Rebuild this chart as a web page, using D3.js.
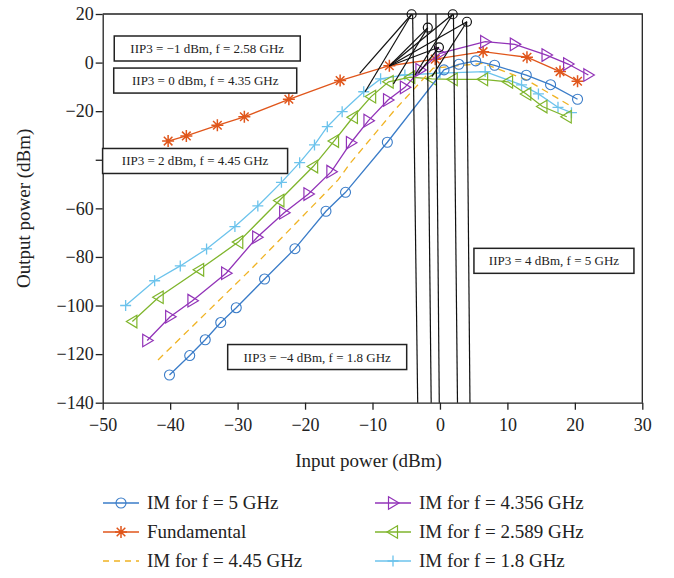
<!DOCTYPE html>
<html>
<head>
<meta charset="utf-8">
<script src="https://d3js.org/d3.v7.min.js"></script>
<style>
  body { margin: 0; background: #fff; }
  text { font-family: "Liberation Serif", "DejaVu Serif", serif; fill: #222; }
  .axis path, .axis line { stroke: #222; stroke-width: 1.3; }
</style>
</head>
<body>
<svg id="canvas" width="674" height="578"></svg>
<script>
// ---------------------------------------------------------------- //
// Data

var xTicks = [-50, -40, -30, -20, -10, 0, 10, 20, 30];
var yTicks = [20, 0, -20, -40, -60, -80, -100, -120, -140];

var im5_x   = [-40.1, -37.1, -34.8, -32.5, -30.2, -26.0, -21.5, -16.9, -14.0, -7.8, 0.6, 2.8, 5.3, 8.1, 12.8, 16.4, 20.4];
var im5_y   = [-128.6, -120.6, -114.1, -107.0, -100.9, -89.1, -76.6, -61.2, -53.4, -32.8, -3.0, -0.7, 0.7, -1.1, -5.2, -9.1, -15.1];

var fund_x  = [-40.3, -37.6, -33.0, -29.0, -22.4, -14.8, -7.5, -0.7, 6.4, 12.9, 17.8, 20.4];
var fund_y  = [-32.3, -30.2, -25.8, -22.3, -15.1, -7.4, -1.3, 1.4, 4.5, 2.2, -3.7, -7.7];

var im445_x = [-41.8, -28.0, -15.1, -13.3, -6.7, -1.0, 6.4, 12.9, 19.7];
var im445_y = [-122.4, -85.0, -48.3, -41.4, -19.5, -2.3, -0.3, -7.2, -18.4];

var im4356_x = [-43.4, -40.0, -36.7, -31.7, -27.1, -23.1, -19.5, -16.1, -13.2, -10.6, -7.7, -5.2, -2.9, 0.0, 6.7, 11.1, 15.8, 19.0, 22.0];
var im4356_y = [-114.4, -104.6, -98.0, -86.7, -71.9, -61.8, -54.1, -44.9, -33.0, -23.9, -15.4, -10.2, -3.0, 3.8, 8.6, 7.5, 3.1, -0.6, -5.1];

var im2589_x = [-45.6, -41.7, -35.7, -29.9, -23.8, -18.8, -15.7, -12.9, -10.2, -7.6, -4.4, -1.2, 1.9, 6.4, 10.1, 12.8, 15.2, 18.8];
var im2589_y = [-106.6, -96.6, -85.3, -73.9, -56.8, -42.8, -32.3, -22.5, -14.0, -7.9, -6.0, -6.7, -6.9, -6.9, -7.9, -12.9, -18.1, -22.3];

var im18_x  = [-46.6, -42.3, -38.5, -34.6, -30.4, -27.0, -23.5, -20.8, -18.6, -16.7, -14.5, -11.3, -8.8, -5.2, 0.0, 6.7, 12.1, 14.6, 17.5, 19.5];
var im18_y  = [-100.0, -89.8, -83.7, -76.7, -67.5, -59.0, -49.3, -41.2, -33.9, -26.4, -20.2, -12.0, -6.7, -5.1, -4.3, -3.7, -9.2, -12.9, -18.4, -20.6];

var seriesNames  = ['IM for f = 5 GHz', 'Fundamental', 'IM for f = 4.45 GHz', 'IM for f = 4.356 GHz', 'IM for f = 2.589 GHz', 'IM for f = 1.8 GHz'];
var seriesColors = ['#3a7cc8', '#e0561b', '#f0b323', '#9233b8', '#7fb52c', '#6cc3ec'];
var seriesMarks  = ['circle', 'asterisk', 'none', 'triRight', 'triLeft', 'plus'];

// intercept points (IIP3 circles) and their guide lines, in data units
var ip_x = [-4.2, -1.8, 1.9, 4.0, -0.15];
var ip_y = [19.9, 14.4, 19.9, 16.8, 6.3];
var vline_x1 = [-4.05, -1.9, -0.6, 2.0, 3.95];
var vline_y1 = [19.9, 20, 20, 19.9, 16.8];
var vline_x2 = [-3.3, -1.3, -0.1, 2.6, 4.45];
var guide_from = [0, 0, 1, 1, 2, 2, 3, 3, 4, 4];
var guide_to_x = [-11.9, -11.1, -7.5, -6.9, -7.5, -3.7, -7.5, -1.2, -7.5, -3.2];
var guide_to_y = [-4.4, -12.0, -1.4, -8.8, -1.4, -5.1, -1.4, -5.8, -1.4, -4.4];

// annotation labels: centre in data units
var noteText = ['IIP3 = \u22121 dBm, f = 2.58 GHz', 'IIP3 = 0 dBm, f = 4.35 GHz', 'IIP3 = 2 dBm, f = 4.45 GHz', 'IIP3 = 4 dBm, f = 5 GHz', 'IIP3 = \u22124 dBm, f = 1.8 GHz'];
var note_x = [-34.5, -34.8, -36.3, 16.9, -18.2];
var note_y = [5.8, -7.4, -40.5, -81.6, -121.2];
var note_w = [186, 183, 185, 160, 179];

// ---------------------------------------------------------------- //
// Setup

var svg = d3.select('#canvas');
var L = 102.7, R = 642.3, T = 14, B = 402.7;
var x = d3.scaleLinear().domain([-50, 30]).range([L, R]);
var y = d3.scaleLinear().domain([-140, 20]).range([B, T]);

var fmt = function(d){ return d < 0 ? '\u2212' + Math.abs(d) : '' + d; };

// frame (top and right)
svg.append('path').attr('d', 'M' + L + ',' + T + 'H' + R + 'V' + B)
  .style('fill', 'none').style('stroke', '#222').style('stroke-width', 1.3);

var xAxis = svg.append('g').attr('class', 'axis').attr('transform', 'translate(0,' + B + ')')
  .call(d3.axisBottom(x).tickValues(xTicks).tickSize(7).tickSizeOuter(0).tickFormat(fmt));
xAxis.selectAll('text').style('font-size', '18px').attr('dy', '1.0em');

var yAxis = svg.append('g').attr('class', 'axis').attr('transform', 'translate(' + L + ',0)')
  .call(d3.axisLeft(y).tickValues(yTicks).tickSize(7).tickSizeOuter(0)
    .tickFormat(function(d){ return d === -40 ? '' : fmt(d); }));
yAxis.selectAll('text').style('font-size', '18px').attr('x', -9);
svg.selectAll('.axis .domain').style('stroke-width', 1.3);

svg.append('text').attr('x', (L + R) / 2 - 4).attr('y', 467).attr('text-anchor', 'middle')
  .style('font-size', '19px').text('Input power (dBm)');
svg.append('text').attr('transform', 'translate(30,' + ((T + B) / 2) + ') rotate(-90)')
  .attr('text-anchor', 'middle').style('font-size', '19px').text('Output power (dBm)');

// ---------------------------------------------------------------- //
// Markers

function drawMarker(g, kind, color){
  if (kind === 'circle') {
    g.append('circle').attr('r', 5).style('fill', 'none').style('stroke', color).style('stroke-width', 1.1);
  } else if (kind === 'asterisk') {
    g.append('path').attr('d', 'M-6,0H6M0,-6V6M-4.3,-4.3L4.3,4.3M-4.3,4.3L4.3,-4.3')
      .style('stroke', color).style('stroke-width', 1.5).style('fill', 'none');
  } else if (kind === 'plus') {
    g.append('path').attr('d', 'M-5.5,0H5.5M0,-5.5V5.5')
      .style('stroke', color).style('stroke-width', 1.3).style('fill', 'none');
  } else if (kind === 'triRight') {
    g.append('path').attr('d', 'M-4.5,-6.3L6,0L-4.5,6.3Z')
      .style('stroke', color).style('stroke-width', 1.2).style('fill', 'none');
  } else if (kind === 'triLeft') {
    g.append('path').attr('d', 'M4.5,-6.3L-6,0L4.5,6.3Z')
      .style('stroke', color).style('stroke-width', 1.2).style('fill', 'none');
  }
}

// ---------------------------------------------------------------- //
// Series

var allX = [im5_x, fund_x, im445_x, im4356_x, im2589_x, im18_x];
var allY = [im5_y, fund_y, im445_y, im4356_y, im2589_y, im18_y];
var lineGen = d3.line().x(function(d){ return x(d[0]); }).y(function(d){ return y(d[1]); });
var plot = svg.append('g');

// draw order: back to front
[1, 5, 4, 3, 2, 0].forEach(function(i){
  var pts = allX[i].map(function(d, j){ return [d, allY[i][j]]; });
  plot.append('path').attr('d', lineGen(pts))
    .style('fill', 'none').style('stroke', seriesColors[i]).style('stroke-width', 1.3)
    .style('stroke-dasharray', seriesMarks[i] === 'none' ? '7,5' : null);
  if (seriesMarks[i] !== 'none') {
    pts.forEach(function(p){
      var g = plot.append('g').attr('transform', 'translate(' + x(p[0]) + ',' + y(p[1]) + ')');
      drawMarker(g, seriesMarks[i], seriesColors[i]);
    });
  }
});

// ---------------------------------------------------------------- //
// Intercept guides

var guides = svg.append('g').style('stroke', '#111').style('stroke-width', 1.2).style('fill', 'none');
vline_x1.forEach(function(d, i){
  guides.append('line').attr('x1', x(d)).attr('y1', y(vline_y1[i]))
    .attr('x2', x(vline_x2[i])).attr('y2', y(-140));
});
guide_from.forEach(function(k, i){
  guides.append('line').attr('x1', x(ip_x[k])).attr('y1', y(ip_y[k]))
    .attr('x2', x(guide_to_x[i])).attr('y2', y(guide_to_y[i]));
});
ip_x.forEach(function(d, i){
  guides.append('circle').attr('cx', x(d)).attr('cy', y(ip_y[i])).attr('r', 4.5);
});

// ---------------------------------------------------------------- //
// Notes

noteText.forEach(function(t, i){
  var cx = x(note_x[i]), cy = y(note_y[i]), w = note_w[i], h = 25;
  svg.append('rect').attr('x', cx - w / 2).attr('y', cy - h / 2).attr('width', w).attr('height', h)
    .style('fill', '#fff').style('stroke', '#222').style('stroke-width', 1.5);
  svg.append('text').attr('x', cx).attr('y', cy + 4.5).attr('text-anchor', 'middle')
    .style('font-size', '13px').text(t);
});

// ---------------------------------------------------------------- //
// Legend

var legX = [103, 375], legY = [503, 532, 561];
seriesNames.forEach(function(name, i){
  var col = Math.floor(i / 3), row = i % 3;
  var lx = legX[col], ly = legY[row];
  svg.append('line').attr('x1', lx).attr('x2', lx + 36).attr('y1', ly).attr('y2', ly)
    .style('stroke', seriesColors[i]).style('stroke-width', 1.5)
    .style('stroke-dasharray', seriesMarks[i] === 'none' ? '6,5' : null);
  var g = svg.append('g').attr('transform', 'translate(' + (lx + 18) + ',' + ly + ')');
  drawMarker(g, seriesMarks[i], seriesColors[i]);
  svg.append('text').attr('x', lx + 44).attr('y', ly + 6).style('font-size', '19px').text(name);
});
</script>
</body>
</html>
